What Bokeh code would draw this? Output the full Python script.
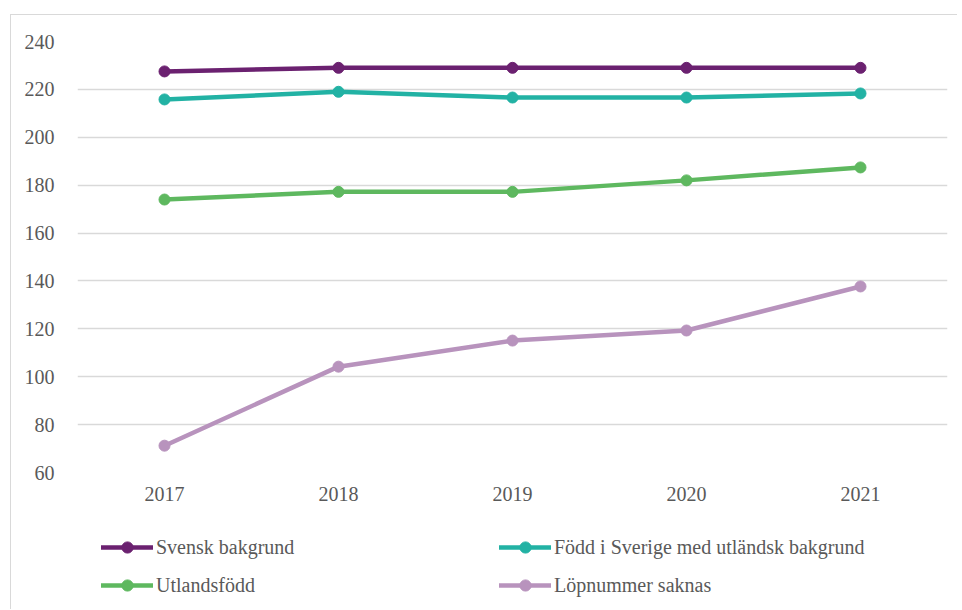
from bokeh.plotting import figure
from bokeh.layouts import column
from bokeh.models import Legend, LegendItem, FactorRange, Range1d, FixedTicker
from bokeh.embed import file_html
from bokeh.resources import INLINE

years = ["2017", "2018", "2019", "2020", "2021"]
svensk = [227.5, 229, 229, 229, 229]
fodd_sverige = [215.8, 219, 216.6, 216.6, 218.3]
utlandsfodd = [174, 177.2, 177.2, 182, 187.4]
lopnummer = [71.2, 104.2, 115.1, 119.3, 137.7]
y_ticks = [60, 80, 100, 120, 140, 160, 180, 200, 220, 240]

names = ["Svensk bakgrund", "Född i Sverige med utländsk bakgrund", "Utlandsfödd", "Löpnummer saknas"]
series = [svensk, fodd_sverige, utlandsfodd, lopnummer]
colors = ["#6b2170", "#22b2a4", "#5eb85f", "#b893bd"]

FONT = "Liberation Serif"
TXT = "#595959"
W = 946

p = figure(x_range=FactorRange(*years), y_range=Range1d(60, 240),
           width=W, height=497, output_backend="svg", toolbar_location=None,
           min_border_left=66, min_border_right=W - 66 - 870, min_border_top=26, min_border_bottom=40)
p.outline_line_color = None
p.background_fill_color = "white"
p.border_fill_color = "white"

LW, MS = 4.5, 11
for vals, c in zip(series, colors):
    p.line(years, vals, line_color=c, line_width=LW, line_join="round", line_cap="round")
    p.scatter(years, vals, size=MS, fill_color=c, line_color=c)

p.xgrid.grid_line_color = None
p.ygrid.grid_line_color = "#d9d9d9"
p.ygrid.grid_line_width = 1.5
p.yaxis.ticker = FixedTicker(ticks=y_ticks)
for ax in (p.xaxis, p.yaxis):
    ax.axis_line_color = None
    ax.major_tick_line_color = None
    ax.minor_tick_line_color = None
    ax.major_label_text_font = FONT
    ax.major_label_text_font_size = "20px"
    ax.major_label_text_color = TXT
p.yaxis.major_label_standoff = 17
p.xaxis.major_label_standoff = 8

# legend strip below the chart (series drawn out of its view; only swatches show)
q = figure(x_range=FactorRange(*years), y_range=Range1d(-2, -1), width=W, height=97,
           output_backend="svg", toolbar_location=None,
           min_border=0, min_border_left=0, min_border_right=0, min_border_top=0, min_border_bottom=0)
q.axis.visible = False
q.grid.visible = False
q.outline_line_color = None
q.background_fill_color = "white"
q.border_fill_color = "white"

swatches = []
for vals, c in zip(series, colors):
    l = q.line(years, vals, line_color=c, line_width=LW, line_cap="round")
    s = q.scatter(years, vals, size=MS, fill_color=c, line_color=c)
    swatches.append([l, s])

def mk_legend(idx, x):
    lg = Legend(items=[LegendItem(label=names[i], renderers=swatches[i]) for i in idx],
                location=(x, 10), orientation="vertical",
                glyph_width=52, glyph_height=28, label_height=20, spacing=10,
                label_standoff=3, padding=0, margin=0,
                border_line_color=None, background_fill_alpha=0,
                label_text_font=FONT, label_text_font_size="20px", label_text_color=TXT)
    q.add_layout(lg, "center")

mk_legend([0, 2], 24)
mk_legend([1, 3], 422)

layout = column(p, q, spacing=0)
layout.margin = (14, 0, 0, 10)
layout.styles = {"border-top": "1px solid #d9d9d9", "border-left": "1px solid #d9d9d9"}

open("out.html", "w").write(file_html(layout, INLINE))
